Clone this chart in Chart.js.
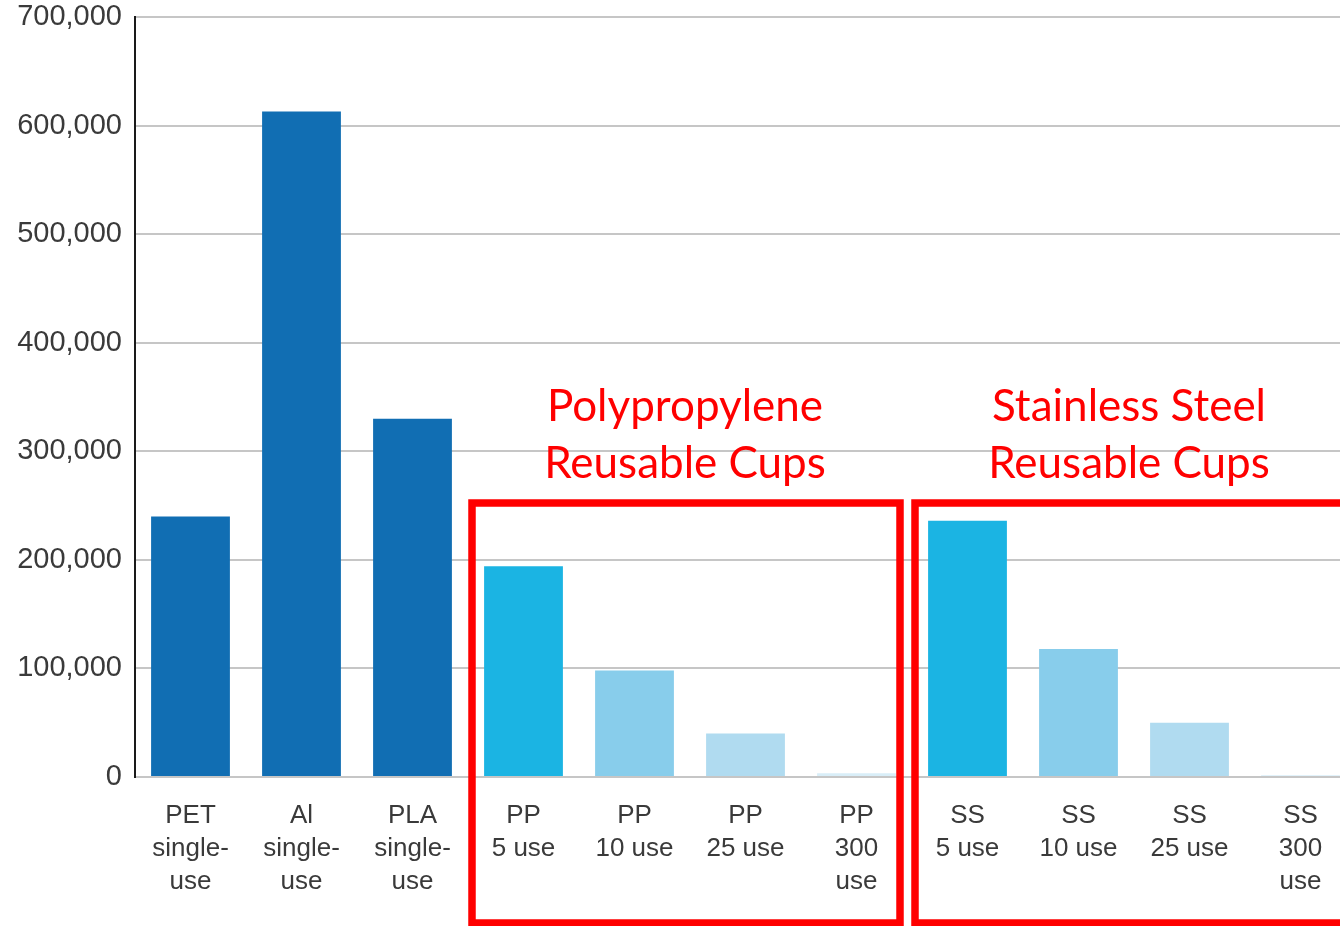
<!DOCTYPE html>
<html>
<head>
<meta charset="utf-8">
<script src="https://cdn.jsdelivr.net/npm/chart.js@4.4.1/dist/chart.umd.min.js"></script>
<style>
  html, body { margin: 0; padding: 0; background: #fff; overflow: hidden; }
  #wrap { width: 1356px; height: 926px; }
</style>
</head>
<body>
<div id="wrap"><canvas id="cups" width="1356" height="926"></canvas></div>
<script>
// Cup types, one bar each
const categories = [
  ["PET", "single-", "use"],
  ["Al", "single-", "use"],
  ["PLA", "single-", "use"],
  ["PP", "5 use"],
  ["PP", "10 use"],
  ["PP", "25 use"],
  ["PP", "300", "use"],
  ["SS", "5 use"],
  ["SS", "10 use"],
  ["SS", "25 use"],
  ["SS", "300", "use"]
];

// Values per cup type
const values = [240000, 613000, 330000, 194000, 98000, 40000, 3500, 236000, 118000, 50000, 1500];

// Y axis ticks
const yTicks = [0, 100000, 200000, 300000, 400000, 500000, 600000, 700000];

// Group captions
const groupTitles = [
  ["Polypropylene", "Reusable Cups"],
  ["Stainless Steel", "Reusable Cups"]
];
const groupRanges = [[3, 6], [7, 10]];

const barColors = [
  "#116eb3", "#116eb3", "#116eb3",
  "#1bb4e3", "#88cdeb", "#b0dbf0", "#d9eef8",
  "#1bb4e3", "#88cdeb", "#b0dbf0", "#d9eef8"
];

const groupBoxes = {
  id: "groupBoxes",
  afterDraw(chart) {
    const ctx = chart.ctx;
    const xs = chart.scales.x;
    const half = (xs.getPixelForValue(1) - xs.getPixelForValue(0)) / 2;
    ctx.save();
    ctx.strokeStyle = "#ff0000";
    ctx.fillStyle = "#ff0000";
    ctx.lineWidth = 7.5;
    groupRanges.forEach((r, i) => {
      const left = xs.getPixelForValue(r[0]) - half + (i === 0 ? 4 : 3);
      const right = i === 0 ? xs.getPixelForValue(r[1]) + half - 12 : xs.getPixelForValue(r[1]) + half + 30;
      ctx.strokeRect(left, 503, right - left, 420);
      const cx = (xs.getPixelForValue(r[0]) + xs.getPixelForValue(r[1])) / 2 - 5;
      ctx.font = "44px Lato";
      ctx.textAlign = "center";
      ctx.textBaseline = "alphabetic";
      ctx.fillText(groupTitles[i][0], cx, 421);
      ctx.fillText(groupTitles[i][1], cx, 478);
    });
    ctx.restore();
  }
};

new Chart(document.getElementById("cups"), {
  type: "bar",
  data: {
    labels: categories,
    datasets: [{
      data: values,
      backgroundColor: barColors,
      borderWidth: 0,
      barPercentage: 0.71,
      categoryPercentage: 1.0
    }]
  },
  options: {
    responsive: false,
    animation: false,
    layout: { padding: { top: 17, right: 0, left: 0, bottom: 0 } },
    plugins: { legend: { display: false }, tooltip: { enabled: false } },
    scales: {
      x: {
        grid: { display: false, drawTicks: false },
        border: { display: false },
        ticks: {
          color: "#3a3a3a",
          font: { family: "Liberation Sans", size: 26, lineHeight: 1.27 },
          padding: 22,
          maxRotation: 0,
          autoSkip: false
        },
        afterFit(s) { s.height = 149; }
      },
      y: {
        min: 0,
        max: 700000,
        afterBuildTicks(s) { s.ticks = yTicks.map(v => ({ value: v })); },
        grid: { color: "#c6c6c6", lineWidth: 2, drawTicks: false },
        border: { display: true, color: "#1a1a1a", width: 2 },
        ticks: {
          color: "#3a3a3a",
          font: { family: "Liberation Sans", size: 29 },
          padding: 13,
          callback: v => v.toLocaleString("en-US")
        },
        afterFit(s) { s.width = 135; s.paddingTop = 0; s.paddingBottom = 0; }
      }
    }
  },
  plugins: [groupBoxes]
});
</script>
</body>
</html>
